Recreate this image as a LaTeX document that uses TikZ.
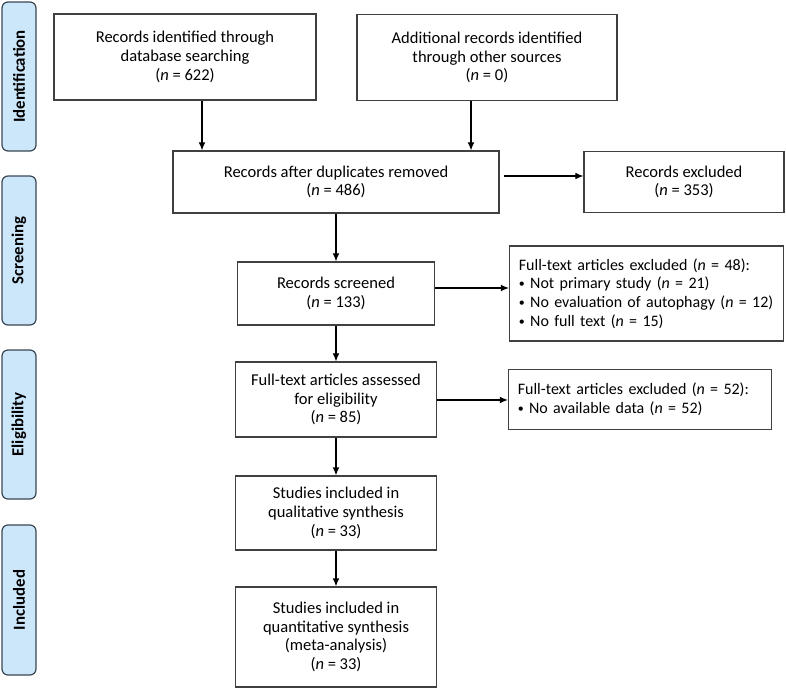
\documentclass[tikz,border=0pt]{standalone}
\usepackage{fontspec}
\setmainfont{Carlito}
\usetikzlibrary{positioning,arrows.meta}
\definecolor{phasefill}{RGB}{204,230,250}
\definecolor{phaseline}{RGB}{58,70,84}
\definecolor{boxline}{RGB}{64,64,64}
\newcommand{\bul}{{\fontsize{9}{9}\selectfont\raisebox{0.2ex}{•}}}
\tikzset{
  box/.style={draw=boxline, line width=0.9pt, align=center, font=\fontsize{12.4}{14}\selectfont, inner sep=2pt},
  listbox/.style={box, align=left, text width=#1, inner xsep=7pt, font=\fontsize{12}{14}\selectfont},
  phase/.style={draw=phaseline, fill=phasefill, line width=0.9pt, rounded corners=4.5pt,
    minimum width=25.5pt, minimum height=111.75pt, font=\fontsize{12.6}{14}\selectfont\bfseries},
  arrow/.style={-{Latex[length=6pt,width=5pt]}, line width=0.8pt}
}
\begin{document}
\begin{tikzpicture}[x=0.75pt, y=-0.75pt, on grid, auto]
\useasboundingbox (0,0) rectangle (786,689);
% phases
\node [phase] (p_ident) at (19,76.5) {\rotatebox{90}{Identification}};
\node [phase] (p_screen) at (19,250.5) {\rotatebox{90}{Screening}};
\node [phase] (p_elig) at (19,424.5) {\rotatebox{90}{Eligibility}};
\node [phase, minimum height=112.5pt] (p_incl) at (19,600) {\rotatebox{90}{Included}};
% boxes
\node [box, minimum width=196.5pt, minimum height=64.5pt] (db) at (185,57)
  {Records identified through\\database searching\\(\textit{n} = 622)};
\node [box, minimum width=195pt, minimum height=65pt] (other) at (487,57.5)
  {Additional records identified\\through other sources\\(\textit{n} = 0)};
\node [box, minimum width=244.5pt, minimum height=46.5pt] (dup) at (336,182)
  {Records after duplicates removed\\(\textit{n} = 486)};
\node [box, minimum width=150pt, minimum height=45.75pt] (excl) [right=261pt of dup]
  {Records excluded\\(\textit{n} = 353)};
\node [box, minimum width=147.75pt, minimum height=47.25pt] (screened) [below=83.6pt of dup]
  {Records screened\\(\textit{n} = 133)};
\node [listbox=191.5pt, minimum height=71.25pt] (excl_48) [right=232.9pt of screened]
  {Full-text articles excluded (\textit{n} = 48):\\
   \bul\ Not primary study (\textit{n} = 21)\\
   \bul\ No evaluation of autophagy (\textit{n} = 12)\\
   \bul\ No full text (\textit{n} = 15)};
\node [box, minimum width=150.75pt, minimum height=56.25pt] (assessed) [below=79.5pt of screened]
  {Full-text articles assessed\\for eligibility\\(\textit{n} = 85)};
\node [listbox=183.25pt, minimum height=45pt] (excl_52) [right=228pt of assessed]
  {Full-text articles excluded (\textit{n} = 52):\\
   \bul\ No available data (\textit{n} = 52)};
\node [box, minimum width=150.75pt, minimum height=55.5pt] (qual) [below=85.1pt of assessed]
  {Studies included in\\qualitative synthesis\\(\textit{n} = 33)};
\node [box, minimum width=150.75pt, minimum height=75pt] (quant) [below=93pt of qual]
  {Studies included in\\quantitative synthesis\\(meta-analysis)\\(\textit{n} = 33)};
% connectors
\coordinate (db_out) at (202,0);
\coordinate (other_out) at (471,0);
\draw [arrow] (db.south -| db_out) -- (dup.north -| db_out);
\draw [arrow] (other.south -| other_out) -- (dup.north -| other_out);
\draw [arrow] ([xshift=3pt, yshift=4.5pt]dup.east) -- ([yshift=4.5pt]dup.east -| excl.west);
\draw [arrow] (dup) -- (screened);
\draw [arrow] ([yshift=4.1pt]screened.east) -- ([yshift=4.1pt]screened.east -| excl_48.west);
\draw [arrow] (screened) -- (assessed);
\draw [arrow] ([yshift=-0.375pt]assessed.east) -- ([yshift=-0.375pt]assessed.east -| excl_52.west);
\draw [arrow] (assessed) -- (qual);
\draw [arrow] (qual) -- (quant);
\end{tikzpicture}
\end{document}
